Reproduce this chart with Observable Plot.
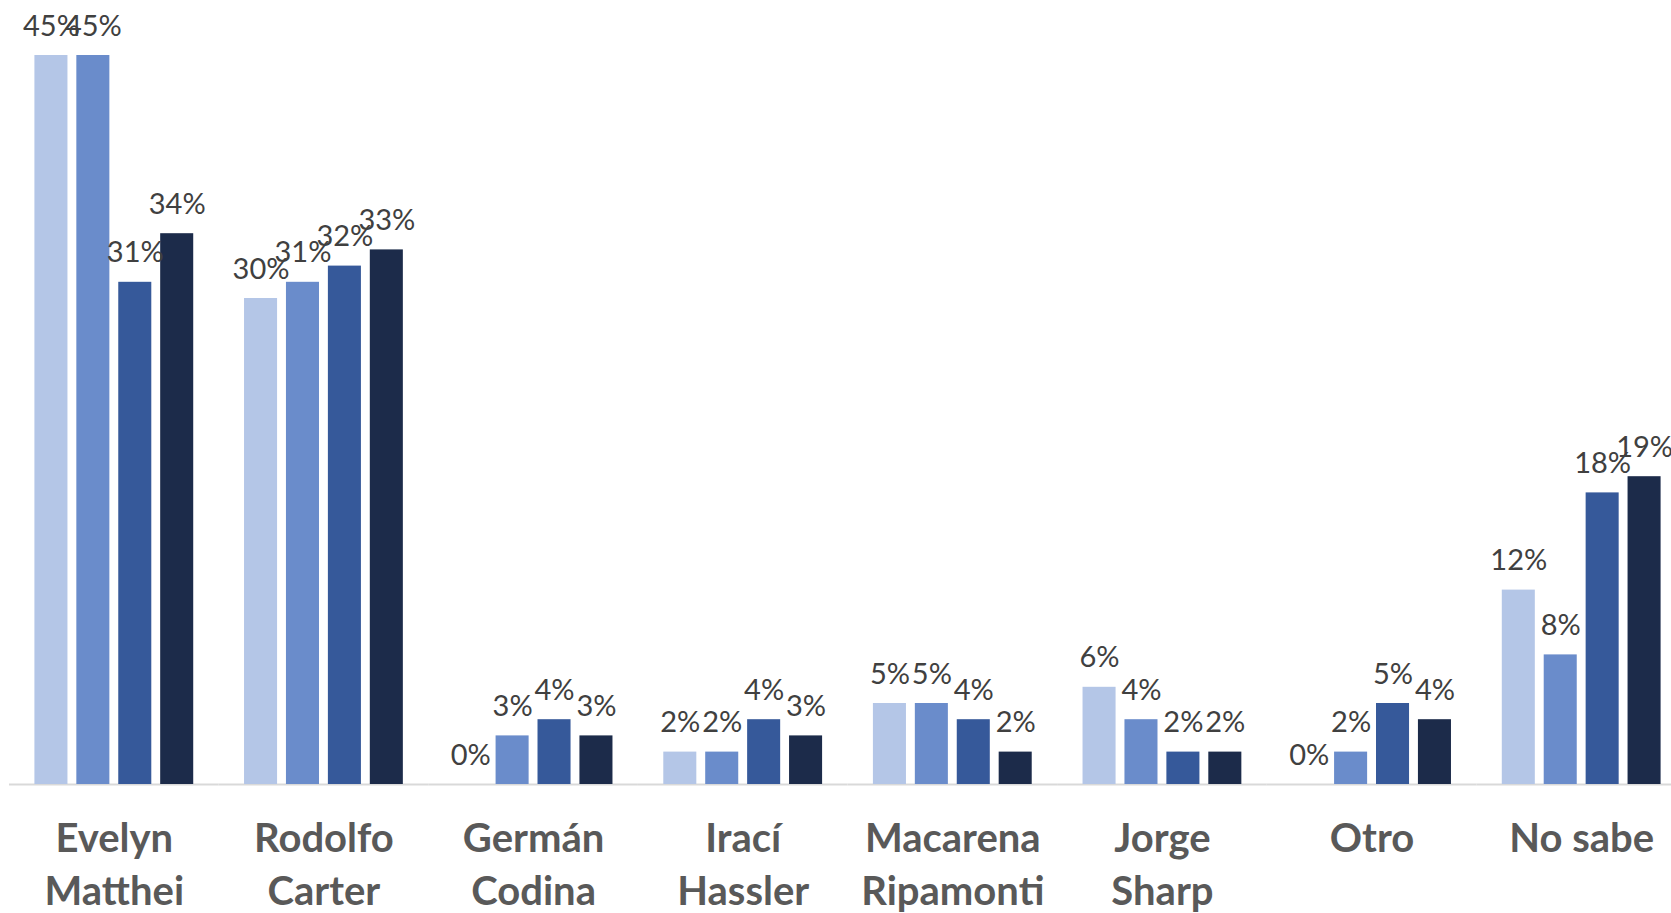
<!DOCTYPE html>
<html>
<head>
<meta charset="utf-8">
<script src="https://cdn.jsdelivr.net/npm/d3@7"></script>
<script src="https://cdn.jsdelivr.net/npm/@observablehq/plot@0.6"></script>
<style>
  html, body { margin: 0; padding: 0; background: #ffffff; overflow: hidden; }
  svg { display: block; }
</style>
</head>
<body>
<script>
const candidates = ["Evelyn Matthei", "Rodolfo Carter", "Germán Codina", "Irací Hassler", "Macarena Ripamonti", "Jorge Sharp", "Otro", "No sabe"];
const tickLabels = ["Evelyn\nMatthei", "Rodolfo\nCarter", "Germán\nCodina", "Irací\nHassler", "Macarena\nRipamonti", "Jorge\nSharp", "Otro", "No sabe"];
const series = ["Serie 1", "Serie 2", "Serie 3", "Serie 4"];
const serie1 = [45, 30, 0, 2, 5, 6, 0, 12];
const serie2 = [45, 31, 3, 2, 5, 4, 2, 8];
const serie3 = [31, 32, 4, 4, 4, 2, 5, 18];
const serie4 = [34, 33, 3, 3, 2, 2, 4, 19];
const colors = ["#B4C6E7", "#6A8CCB", "#36599A", "#1C2B4A"];

const values = [serie1, serie2, serie3, serie4];
const data = [];
candidates.forEach((c, i) => {
  series.forEach((s, j) => {
    data.push({candidate: c, series: s, value: values[j][i]});
  });
});
const labelOf = new Map(candidates.map((c, i) => [c, tickLabels[i]]));

const chart = Plot.plot({
  width: 1671,
  height: 913,
  marginLeft: 9,
  marginRight: -15,
  marginTop: 55,
  marginBottom: 129,
  facet: {marginLeft: 9, marginRight: -15},
  style: {fontFamily: "Lato, 'Open Sans', sans-serif", background: "#ffffff"},
  fx: {domain: candidates, padding: 0, round: false, axis: null, label: null},
  x: {domain: series, paddingInner: 0.212, paddingOuter: 0.606, round: false, axis: null},
  y: {domain: [0, 45], axis: null},
  color: {domain: series, range: colors},
  marks: [
    Plot.ruleY([0], {stroke: "#d9d9d9", strokeWidth: 2}),
    Plot.barY(data, {fx: "candidate", x: "series", y: "value", fill: "series"}),
    Plot.text(data, {
      fx: "candidate", x: "series", y: "value",
      text: d => d.value + "%",
      lineAnchor: "bottom", dy: -20,
      fontSize: 29, fill: "#404040"
    }),
    Plot.axisFx({
      anchor: "bottom",
      tickSize: 0,
      tickPadding: 30,
      tickFormat: d => labelOf.get(d),
      fontSize: 40,
      fontWeight: "bold",
      fill: "#595959",
      lineHeight: 1.32,
      label: null
    })
  ]
});
document.body.appendChild(chart);
</script>
</body>
</html>
